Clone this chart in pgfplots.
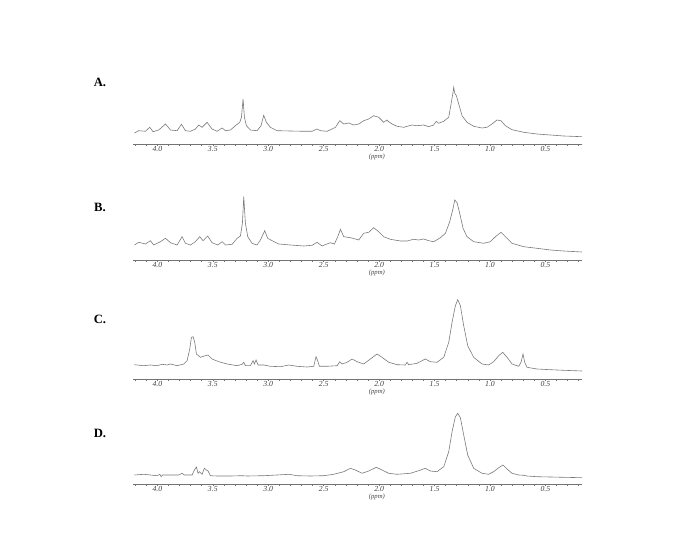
\documentclass[border=0pt]{standalone}
\usepackage{fontspec}
\setmainfont{Liberation Serif}
\usepackage{pgfplots}
\pgfplotsset{compat=1.18}

% spectra: x in ppm, y = height above the ppm axis (1 unit = 1 px of the reference)
\pgfplotsset{nmr/.style={
    scale only axis, width=336.75pt, height=63.75pt,
    xmin=0.17, xmax=4.22, x dir=reverse, ymin=0, ymax=85,
    clip=false, anchor=south west,
    axis x line=bottom, axis y line=none,
    axis line style={-, draw=black!55, line width=0.5pt},
    xtick={0.5,1.0,1.5,2.0,2.5,3.0,3.5,4.0},
    minor xtick={0.2,0.3,0.4,0.6,0.7,0.8,0.9,1.1,1.2,1.3,1.4,1.6,1.7,1.8,1.9,2.1,2.2,2.3,2.4,2.6,2.7,2.8,2.9,3.1,3.2,3.3,3.4,3.6,3.7,3.8,3.9,4.1,4.2},
    tick align=outside, xtick pos=bottom,
    major tick length=1.6pt, minor tick length=1.3pt,
    tick style={draw=black!55, line width=0.4pt},
    xticklabel style={font=\fontsize{5.8}{6}\selectfont\itshape, inner sep=0.3pt, text=black!75},
    /pgf/number format/assume math mode=true,
    /pgf/number format/fixed, /pgf/number format/fixed zerofill,
    /pgf/number format/precision=1,
  }}
\tikzset{
  spec/.style={no marks, draw=black!52, line width=0.45pt},
  ppmlabel/.style={font=\fontsize{5}{5.5}\selectfont\itshape, text=black!75, inner sep=0pt},
}

\begin{document}
\begin{tikzpicture}
\path[use as bounding box] (0,0) rectangle (513.75pt,404.25pt);

\node[font=\fontsize{9.5}{10}\selectfont\bfseries] at (75pt,342.75pt) {A.};
\node[font=\fontsize{9.5}{10}\selectfont\bfseries] at (75pt,249pt) {B.};
\node[font=\fontsize{9.5}{10}\selectfont\bfseries] at (75pt,165pt) {C.};
\node[font=\fontsize{9.5}{10}\selectfont\bfseries] at (75pt,79.5pt) {D.};

% A
\begin{axis}[nmr, at={(99.75pt,296.25pt)}]
\addplot[spec] coordinates {
(4.207,11.0) (4.168,13.3) (4.108,12.7) (4.069,16.7) (4.039,12.3) (3.988,14.0)
(3.927,20.0) (3.882,14.0) (3.822,13.3) (3.783,19.7) (3.747,13.3) (3.702,12.7)
(3.657,15.0) (3.627,19.0) (3.597,16.7) (3.552,21.7) (3.507,15.0) (3.462,12.7)
(3.416,16.0) (3.386,13.3) (3.341,14.0) (3.296,18.3) (3.257,21.7) (3.242,26.7)
(3.227,45.0) (3.215,26.7) (3.197,18.3) (3.161,14.0) (3.101,13.3) (3.065,18.3)
(3.041,28.7) (3.017,21.7) (2.981,16.7) (2.920,13.3) (2.800,13.0) (2.680,12.7)
(2.605,12.7) (2.560,15.0) (2.530,13.3) (2.470,12.7) (2.424,15.0) (2.394,16.7)
(2.355,23.3) (2.319,20.0) (2.274,21.0) (2.229,19.0) (2.184,20.0) (2.139,23.3)
(2.094,25.0) (2.049,28.3) (2.004,26.7) (1.959,21.7) (1.929,24.0) (1.919,22.7)
(1.883,20.0) (1.838,17.7) (1.778,16.7) (1.703,19.0) (1.658,18.3) (1.598,19.0)
(1.553,17.3) (1.508,19.0) (1.484,22.7) (1.463,20.7) (1.418,22.7) (1.372,26.7)
(1.351,40.0) (1.336,50.0) (1.327,56.7) (1.318,50.7) (1.303,48.3) (1.282,40.0)
(1.252,28.3) (1.207,21.7) (1.147,17.7) (1.072,16.0) (1.027,16.7) (0.982,20.0)
(0.937,24.0) (0.901,23.3) (0.861,18.3) (0.801,14.3) (0.696,11.7) (0.576,10.0)
(0.456,9.0) (0.336,8.0) (0.170,7.3)
};
\node[ppmlabel] at (axis cs:2.02,0) [yshift=-9.4pt] {(ppm)};
\end{axis}

% B
\begin{axis}[nmr, at={(99.75pt,209.25pt)}]
\addplot[spec] coordinates {
(4.207,15.0) (4.168,17.7) (4.108,16.0) (4.063,19.3) (4.033,15.0) (3.972,18.3)
(3.927,21.7) (3.882,17.3) (3.822,15.0) (3.777,23.3) (3.747,16.7) (3.702,15.0)
(3.657,18.3) (3.618,23.3) (3.588,19.3) (3.546,24.0) (3.507,17.3) (3.455,15.0)
(3.416,18.3) (3.386,15.0) (3.326,15.7) (3.281,21.7) (3.251,24.0) (3.233,36.7)
(3.221,63.3) (3.206,36.7) (3.185,23.3) (3.146,16.7) (3.101,15.0) (3.071,20.0)
(3.032,29.3) (3.005,21.7) (2.965,19.3) (2.905,16.0) (2.800,15.0) (2.680,14.0)
(2.605,14.7) (2.560,17.7) (2.515,14.0) (2.440,17.3) (2.403,16.0) (2.373,23.3)
(2.349,30.7) (2.319,23.3) (2.259,22.3) (2.214,21.0) (2.184,20.0) (2.139,26.7)
(2.094,27.7) (2.049,32.3) (2.004,28.3) (1.959,23.3) (1.898,20.7) (1.808,19.0)
(1.748,19.0) (1.688,20.7) (1.643,20.0) (1.598,21.0) (1.553,19.3) (1.508,18.3)
(1.447,22.3) (1.402,26.7) (1.363,38.3) (1.333,51.7) (1.318,60.0) (1.297,57.3)
(1.273,46.7) (1.243,31.7) (1.207,23.3) (1.147,18.3) (1.057,16.7) (0.997,18.3)
(0.951,23.3) (0.900,27.7) (0.861,23.3) (0.801,16.7) (0.696,13.3) (0.576,11.7)
(0.456,10.0) (0.336,9.0) (0.170,8.0)
};
\node[ppmlabel] at (axis cs:2.02,0) [yshift=-9.4pt] {(ppm)};
\end{axis}

% C
\begin{axis}[nmr, at={(99.75pt,120pt)}]
\addplot[spec] coordinates {
(4.207,14.3) (4.123,13.3) (4.063,14.0) (4.003,13.3) (3.957,14.7) (3.912,14.0)
(3.882,15.0) (3.822,13.3) (3.762,15.0) (3.732,18.3) (3.708,30.0) (3.693,41.7)
(3.678,42.3) (3.663,36.7) (3.648,25.0) (3.612,21.7) (3.567,23.3) (3.543,24.0)
(3.507,20.0) (3.446,17.3) (3.371,15.0) (3.281,13.3) (3.236,14.7) (3.221,16.7)
(3.206,13.3) (3.161,13.3) (3.137,18.3) (3.125,15.0) (3.110,19.0) (3.092,14.0)
(3.041,14.0) (2.981,12.7) (2.890,12.3) (2.815,14.0) (2.740,12.7) (2.650,12.0)
(2.590,12.7) (2.569,22.3) (2.554,18.3) (2.539,12.7) (2.470,12.7) (2.379,13.3)
(2.355,17.3) (2.334,15.0) (2.289,16.7) (2.244,20.0) (2.199,17.3) (2.139,15.0)
(2.079,20.0) (2.019,25.0) (1.974,21.7) (1.913,16.7) (1.838,14.3) (1.763,14.0)
(1.748,16.7) (1.733,14.3) (1.658,15.7) (1.583,20.0) (1.538,17.3) (1.478,16.7)
(1.417,21.7) (1.372,36.7) (1.342,56.7) (1.312,73.3) (1.291,79.3) (1.267,73.3)
(1.237,53.3) (1.201,33.3) (1.147,21.7) (1.072,15.0) (1.012,14.0) (0.967,17.3)
(0.921,23.3) (0.885,26.7) (0.846,21.7) (0.801,15.0) (0.741,12.7) (0.720,16.7)
(0.702,25.0) (0.687,16.7) (0.666,11.7) (0.576,10.0) (0.456,9.3) (0.336,8.7)
(0.170,8.0)
};
\node[ppmlabel] at (axis cs:2.02,0) [yshift=-9.4pt] {(ppm)};
\end{axis}

% D
\begin{axis}[nmr, at={(99.75pt,41.25pt)}]
\addplot[spec] coordinates {
(4.207,9.0) (4.123,9.7) (4.063,9.0) (4.003,8.3) (3.978,9.7) (3.966,7.3)
(3.954,9.0) (3.882,9.0) (3.807,9.0) (3.777,10.7) (3.756,9.0) (3.687,9.0)
(3.666,14.0) (3.648,17.0) (3.633,10.7) (3.621,12.3) (3.597,9.7) (3.576,15.7)
(3.558,14.0) (3.543,13.0) (3.522,8.3) (3.461,8.0) (3.341,8.0) (3.236,8.3)
(3.191,8.0) (3.041,8.3) (2.920,9.0) (2.815,9.7) (2.740,8.3) (2.620,8.0)
(2.500,8.3) (2.409,9.7) (2.319,12.3) (2.259,15.7) (2.214,14.0) (2.154,10.7)
(2.094,13.0) (2.025,16.7) (1.974,14.0) (1.913,10.7) (1.838,9.7) (1.718,10.7)
(1.643,13.3) (1.583,15.7) (1.538,13.0) (1.478,12.3) (1.417,17.3) (1.372,32.3)
(1.342,52.3) (1.312,67.3) (1.291,70.7) (1.267,66.3) (1.237,49.0) (1.201,29.0)
(1.147,15.7) (1.072,10.7) (1.012,9.7) (0.967,12.3) (0.921,16.3) (0.882,19.0)
(0.846,15.0) (0.801,10.7) (0.741,9.0) (0.696,8.7) (0.666,8.0) (0.576,7.3)
(0.456,7.0) (0.336,6.7) (0.170,6.3)
};
\node[ppmlabel] at (axis cs:2.02,0) [yshift=-9.4pt] {(ppm)};
\end{axis}
\end{tikzpicture}
\end{document}
